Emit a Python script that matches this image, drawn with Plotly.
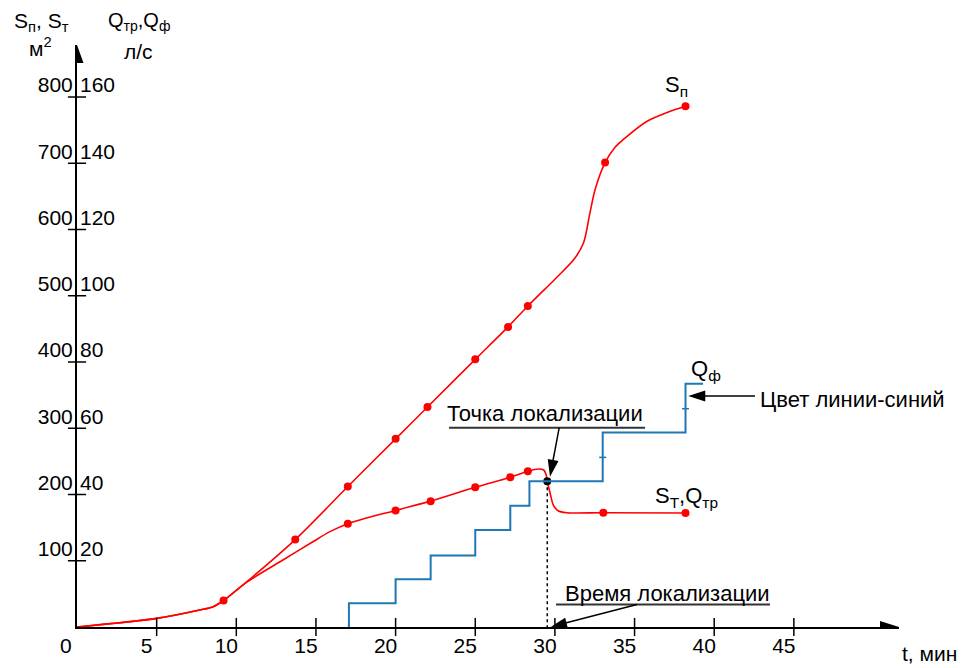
import math
import plotly.graph_objects as go

# ---------------- data ----------------
t_ticks = [0, 5, 10, 15, 20, 25, 30, 35, 40, 45]
s_ticks = [100, 200, 300, 400, 500, 600, 700, 800]
q_ticks = [20, 40, 60, 80, 100, 120, 140, 160]

# S_п (area of fire) – line vertices and measured points
sp_line_t = [0, 5, 7.7, 8.55, 9.2, 13.7, 17.0, 20.0, 22.0, 25.0, 27.06, 28.3, 30.0, 31.2, 31.8, 32.2,
             32.52, 33.15, 33.8, 34.3, 35.76, 37.2, 38.2]
sp_line_s = [0, 13, 25.7, 30.7, 40, 132, 212, 284, 332, 404, 453, 484.5, 525, 555, 580, 625,
             660, 701, 725, 736, 763, 778, 786]
sp_pts_t = [9.2, 13.7, 17.0, 20.0, 22.0, 25.0, 27.06, 28.3, 33.15, 38.2]
sp_pts_s = [40, 132, 212, 284, 332, 404, 453, 484.5, 701, 786]

# S_т, Q_тр – line vertices and measured points
st_line_t = [0, 5, 7.7, 8.55, 9.2, 10.55, 12.85, 14.83, 15.88, 17.0, 20.0, 22.2, 25.0, 27.2, 28.3,
             28.95, 29.3, 29.45, 29.52, 29.7, 29.9, 30.2, 30.74, 33.04, 38.2]
st_line_s = [0, 13, 25.7, 30.7, 40, 66, 100, 129, 144, 156, 176, 190, 211, 226, 235,
             238.5, 237, 230, 220, 202, 184, 175.5, 172.5, 172.5, 172]
st_pts_t = [17.0, 20.0, 22.2, 25.0, 27.2, 28.3, 33.04, 38.2]
st_pts_s = [156, 176, 190, 211, 226, 235, 172.5, 172]

# Q_ф (actual water supply), l/s – stepwise
q_step_t = [17.07, 20.0, 22.2, 25.0, 27.2, 28.4, 33.0, 38.2]
q_step_q = [7.2, 14.4, 21.6, 29.3, 36.6, 44.0, 58.7, 73.4]
q_end_t = 39.3
q_mark_t = [33.0, 38.2]
q_mark_q = [51.2, 65.9]

# localization point
loc_t = 29.52
loc_s = 220

# ---------------- layout constants ----------------
W, H = 969, 668
ML, MR, MT, MB = 77, 70, 45, 41
X_MAX = 51.6
Y_MAX = 878.5
Q_MAX = Y_MAX / 5
PW = W - ML - MR
PH = H - MT - MB
PX_T = PW / X_MAX
PX_S = PH / Y_MAX

FONT = "Arial, 'Liberation Sans', sans-serif"
RED = "#ff0000"
BLUE = "#1f77b4"

fig = go.Figure()

# Q_ф stepwise line
qx = [q_step_t[0]] + q_step_t + [q_end_t]
qy = [0] + q_step_q + [q_step_q[-1]]
fig.add_trace(go.Scatter(x=qx, y=qy, yaxis="y2", mode="lines", line=dict(color=BLUE, width=2, shape="hv"),
                         hoverinfo="skip"))
fig.add_trace(go.Scatter(x=q_mark_t, y=q_mark_q, yaxis="y2", mode="markers",
                         marker=dict(symbol="line-ew", size=5, line=dict(color=BLUE, width=1.5)),
                         hoverinfo="skip"))

# red curves
fig.add_trace(go.Scatter(x=sp_line_t, y=sp_line_s, mode="lines",
                         line=dict(color=RED, width=1.6, shape="spline", smoothing=0.8), hoverinfo="skip"))
fig.add_trace(go.Scatter(x=st_line_t, y=st_line_s, mode="lines",
                         line=dict(color=RED, width=1.6, shape="spline", smoothing=0.8), hoverinfo="skip"))
fig.add_trace(go.Scatter(x=sp_pts_t + st_pts_t, y=sp_pts_s + st_pts_s, mode="markers",
                         marker=dict(color=RED, size=8), hoverinfo="skip"))

# dotted localization line and point
fig.add_trace(go.Scatter(x=[loc_t, loc_t], y=[loc_s, 0], mode="lines",
                         line=dict(color="black", width=1.5, dash="dot"), hoverinfo="skip"))
fig.add_trace(go.Scatter(x=[loc_t], y=[loc_s], mode="markers", marker=dict(color="black", size=8),
                         hoverinfo="skip"))

# axis tick marks crossing the axes
fig.add_trace(go.Scatter(x=t_ticks[1:], y=[0] * (len(t_ticks) - 1), mode="markers", cliponaxis=False,
                         marker=dict(symbol="line-ns", size=13, line=dict(color="black", width=1.5)),
                         hoverinfo="skip"))
fig.add_trace(go.Scatter(x=[0] * len(s_ticks), y=s_ticks, mode="markers", cliponaxis=False,
                         marker=dict(symbol="line-ew", size=13, line=dict(color="black", width=1.5)),
                         hoverinfo="skip"))

shapes = []
annotations = []


def arrow(tip_x, tip_y, tail_x, tail_y, length=17, width=12, lw=1.5):
    dx = (tip_x - tail_x) * PX_T
    dy = (tip_y - tail_y) * PX_S
    n = math.hypot(dx, dy)
    ux, uy = dx / n, dy / n
    bx, by = -ux * length, -uy * length
    px, py = -uy * width / 2, ux * width / 2
    path = f"M0,0 L{bx + px:.2f},{by + py:.2f} L{bx - px:.2f},{by - py:.2f} Z"
    base_x = tip_x - ux * (length - 2) / PX_T
    base_y = tip_y - uy * (length - 2) / PX_S
    if lw > 0:
        shapes.append(dict(type="line", xref="x", yref="y", x0=tail_x, y0=tail_y, x1=base_x, y1=base_y,
                           line=dict(color="black", width=lw)))
    shapes.append(dict(type="path", xref="x", yref="y", xsizemode="pixel", ysizemode="pixel",
                       xanchor=tip_x, yanchor=tip_y, path=path, fillcolor="black",
                       line=dict(width=0), layer="above"))


# axis arrowheads
arrow(X_MAX, 0, 0, 0, length=19, width=12, lw=0)
arrow(0, Y_MAX, 0, 0, length=18, width=13, lw=0)

# "Точка локализации"
annotations.append(dict(x=29.38, y=323, text="Точка локализации", showarrow=False,
                        xanchor="center", yanchor="middle", font=dict(size=22)))
shapes.append(dict(type="line", xref="x", yref="y", x0=23.35, x1=35.66, y0=300.8, y1=300.8,
                   line=dict(color="#333333", width=2)))
arrow(29.69, 226.9, 30.27, 300.8, length=17, width=11)

# "Время локализации"
annotations.append(dict(x=37.05, y=50, text="Время локализации", showarrow=False,
                        xanchor="center", yanchor="middle", font=dict(size=22)))
shapes.append(dict(type="line", xref="x", yref="y", x0=30.07, x1=43.5, y0=34, y1=34,
                   line=dict(color="#333333", width=2)))
arrow(29.75, 0.5, 35.15, 34, length=16, width=10)

# "Цвет линии-синий"
annotations.append(dict(x=42.75, y=344, text="Цвет линии-синий", showarrow=False,
                        xanchor="left", yanchor="middle", font=dict(size=22)))
arrow(38.37, 348.7, 42.56, 348.7, length=17, width=11)

# curve labels
annotations.append(dict(x=38.42, y=388, text="Q<sub>ф</sub>", showarrow=False,
                        xanchor="left", yanchor="middle", font=dict(size=22)))
annotations.append(dict(x=36.16, y=196, text="S<sub>T</sub>,Q<sub>тр</sub>", showarrow=False,
                        xanchor="left", yanchor="middle", font=dict(size=22)))
annotations.append(dict(x=36.79, y=816, text="S<sub>п</sub>", showarrow=False,
                        xanchor="left", yanchor="middle", font=dict(size=22)))


# axis titles (paper coordinates, placed outside the plotting area)
def paper_x(px):
    return (px - ML) / PW


def paper_y(py):
    return (H - MB - py) / PH


annotations.append(dict(xref="paper", yref="paper", x=paper_x(12), y=paper_y(22),
                        text="S<sub>п</sub>, S<sub>т</sub>", showarrow=False,
                        xanchor="left", yanchor="middle", font=dict(size=21)))
annotations.append(dict(xref="paper", yref="paper", x=paper_x(40), y=paper_y(47),
                        text="м<sup>2</sup>", showarrow=False,
                        xanchor="center", yanchor="middle", font=dict(size=21)))
annotations.append(dict(xref="paper", yref="paper", x=paper_x(106), y=paper_y(22),
                        text="Q<sub>тр</sub>,Q<sub>ф</sub>", showarrow=False,
                        xanchor="left", yanchor="middle", font=dict(size=20)))
annotations.append(dict(xref="paper", yref="paper", x=paper_x(138.5), y=paper_y(52),
                        text="л/с", showarrow=False,
                        xanchor="center", yanchor="middle", font=dict(size=21)))
annotations.append(dict(xref="paper", yref="paper", x=paper_x(900), y=paper_y(653),
                        text="t, мин", showarrow=False,
                        xanchor="left", yanchor="middle", font=dict(size=21)))
# origin label
annotations.append(dict(xref="paper", yref="paper", x=0, y=0, xshift=-3, yshift=-18,
                        text=str(t_ticks[0]), showarrow=False,
                        xanchor="right", yanchor="middle", font=dict(size=21)))

fig.update_layout(
    template="none",
    width=W, height=H,
    margin=dict(l=ML, r=MR, t=MT, b=MB, autoexpand=False),
    paper_bgcolor="white", plot_bgcolor="white",
    showlegend=False,
    font=dict(family=FONT, size=21, color="black"),
    xaxis=dict(range=[0, X_MAX], automargin=False, showgrid=False, zeroline=False, showline=True,
               linewidth=2, linecolor="black", ticks="", tickmode="array", tickvals=t_ticks[1:],
               ticktext=[str(v) for v in t_ticks[1:]], ticklabelshift=-10, ticklabelstandoff=-1,
               tickfont=dict(size=21, color="black"), fixedrange=True),
    yaxis=dict(range=[0, Y_MAX], automargin=False, showgrid=False, zeroline=False, showline=True,
               linewidth=2, linecolor="black", ticks="", tickmode="array", tickvals=s_ticks,
               ticktext=[str(v) for v in s_ticks], ticklabelshift=-12, ticklabelstandoff=-2,
               tickfont=dict(size=21, color="black"), fixedrange=True),
    yaxis2=dict(range=[0, Q_MAX], automargin=False, overlaying="y", side="left", anchor="x",
                showgrid=False, zeroline=False, showline=False, ticks="", tickmode="array",
                tickvals=q_ticks, ticktext=[str(v) for v in q_ticks], ticklabelposition="inside",
                ticklabelshift=-12, ticklabelstandoff=0, tickfont=dict(size=21, color="black"),
                fixedrange=True),
    shapes=shapes,
    annotations=annotations,
)

fig.write_html("out.html", config={"displayModeBar": False},
               post_script="document.body.style.margin='0';document.body.style.overflow='hidden';")
